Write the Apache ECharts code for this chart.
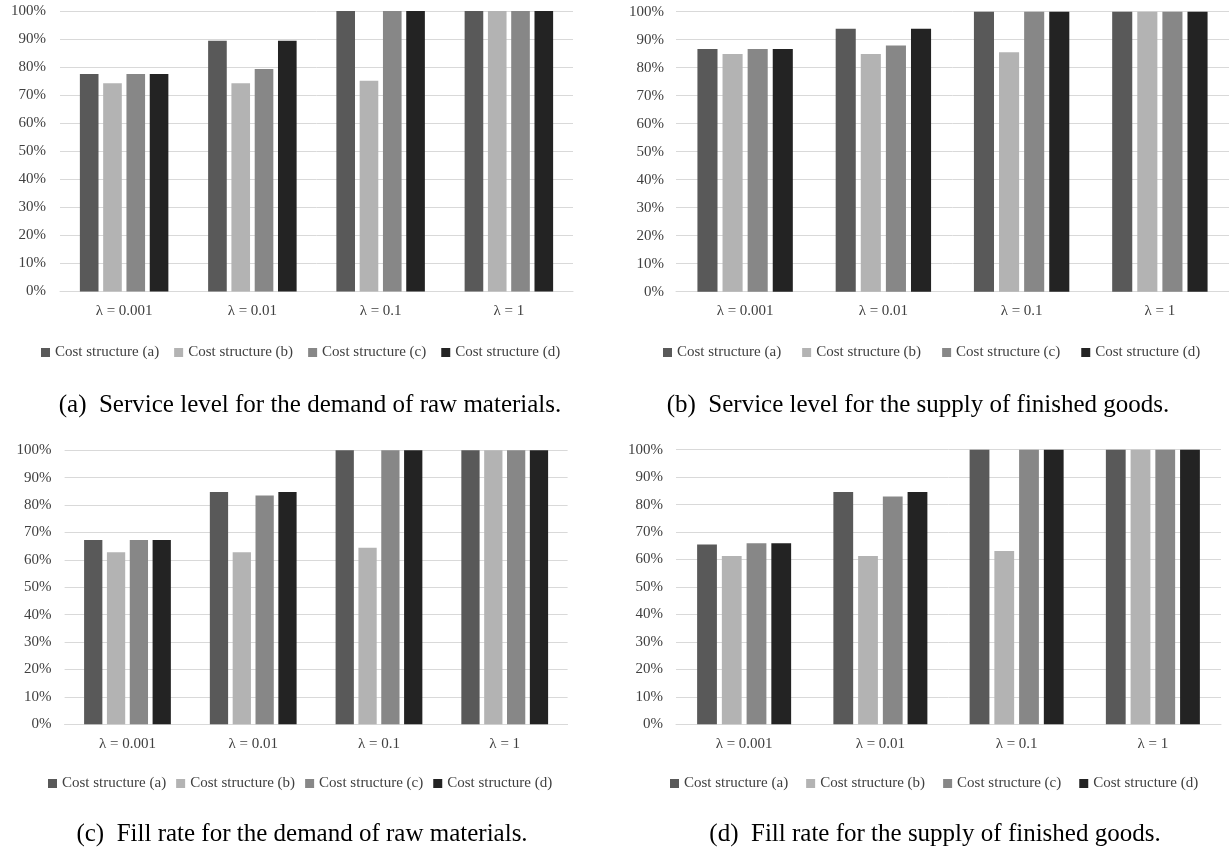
<!DOCTYPE html>
<html>
<head>
<meta charset="utf-8">
<title>Service level and fill rate by cost structure</title>
<script src="https://cdn.jsdelivr.net/npm/echarts@6/dist/echarts.min.js"></script>
<style>
  html, body { margin: 0; padding: 0; background: #ffffff; }
  #chart { width: 1229px; height: 856px; }
</style>
</head>
<body>
<div id="chart"></div>
<script>
// Categories (smoothing parameter) and series names
const lambdas = ['λ = 0.001', 'λ = 0.01', 'λ = 0.1', 'λ = 1'];
const structures = ['Cost structure (a)', 'Cost structure (b)', 'Cost structure (c)', 'Cost structure (d)'];
const yTicks = { min: 0, max: 100, step: 10 };

// (a) Service level for the demand of raw materials (%)
const slRawA = [77.5, 89.4, 100, 100];
const slRawB = [74.2, 74.2, 75.1, 100];
const slRawC = [77.5, 79.3, 100, 100];
const slRawD = [77.5, 89.4, 100, 100];

// (b) Service level for the supply of finished goods (%)
const slFinA = [86.7, 93.9, 100, 100];
const slFinB = [84.9, 84.9, 85.5, 100];
const slFinC = [86.7, 87.9, 100, 100];
const slFinD = [86.7, 93.9, 100, 100];

// (c) Fill rate for the demand of raw materials (%)
const frRawA = [67.3, 84.8, 100, 100];
const frRawB = [62.8, 62.8, 64.4, 100];
const frRawC = [67.3, 83.5, 100, 100];
const frRawD = [67.3, 84.8, 100, 100];

// (d) Fill rate for the supply of finished goods (%)
const frFinA = [65.5, 84.6, 100, 100];
const frFinB = [61.3, 61.3, 63.1, 100];
const frFinC = [65.9, 83.0, 100, 100];
const frFinD = [65.9, 84.6, 100, 100];

const captions = [
  '(a)  Service level for the demand of raw materials.',
  '(b)  Service level for the supply of finished goods.',
  '(c)  Fill rate for the demand of raw materials.',
  '(d)  Fill rate for the supply of finished goods.'
];

const panels = [
  { data: [slRawA, slRawB, slRawC, slRawD], grid: { left: 60, top: 11, width: 513, height: 280.5 }, yMargin: 14,
    legend: { left: 36, top: 340, gap: 15 }, caption: { x: 310, y: 405 } },
  { data: [slFinA, slFinB, slFinC, slFinD], grid: { left: 676, top: 11.7, width: 553, height: 280 }, yMargin: 12,
    legend: { left: 658, top: 340, gap: 21 }, caption: { x: 918, y: 405 } },
  { data: [frRawA, frRawB, frRawC, frRawD], grid: { left: 64.6, top: 450.3, width: 503, height: 274 }, yMargin: 13,
    legend: { left: 43, top: 771, gap: 10 }, caption: { x: 302, y: 834 } },
  { data: [frFinA, frFinB, frFinC, frFinD], grid: { left: 676, top: 449.7, width: 545, height: 274.6 }, yMargin: 13,
    legend: { left: 665, top: 771, gap: 18 }, caption: { x: 935, y: 834 } }
];

const colors = ['#595959', '#b3b3b3', '#878787', '#232323'];
const serif = '"Liberation Serif", "Times New Roman", serif';
const tickColor = '#404040';
const gridColor = '#d9d9d9';

const option = {
  animation: false,
  backgroundColor: '#ffffff',
  color: colors,
  grid: [], xAxis: [], yAxis: [], legend: [], series: [], graphic: []
};

panels.forEach((p, i) => {
  option.grid.push(Object.assign({ containLabel: false }, p.grid));
  option.xAxis.push({
    type: 'category', gridIndex: i, data: lambdas,
    axisLine: { show: true, lineStyle: { color: gridColor, width: 1 } },
    axisTick: { show: false },
    axisLabel: { color: tickColor, fontFamily: serif, fontSize: 15, margin: 12 }
  });
  option.yAxis.push({
    type: 'value', gridIndex: i, min: yTicks.min, max: yTicks.max, interval: yTicks.step,
    axisLine: { show: false }, axisTick: { show: false },
    splitLine: { lineStyle: { color: gridColor, width: 1 } },
    axisLabel: { color: tickColor, fontFamily: serif, fontSize: 15, margin: p.yMargin, formatter: '{value}%' }
  });
  option.legend.push({
    left: p.legend.left, top: p.legend.top, orient: 'horizontal',
    icon: 'rect', itemWidth: 9, itemHeight: 9, itemGap: p.legend.gap,
    data: structures, selectedMode: false,
    textStyle: { color: tickColor, fontFamily: serif, fontSize: 15 }
  });
  p.data.forEach((vals, k) => {
    option.series.push({
      type: 'bar', name: structures[k], xAxisIndex: i, yAxisIndex: i,
      data: vals, barGap: '25%', barCategoryGap: '31%',
      itemStyle: { color: colors[k] }
    });
  });
  option.graphic.push({
    type: 'text', x: p.caption.x, y: p.caption.y,
    style: { text: captions[i], fill: '#000000', font: '25px ' + serif, textAlign: 'center', textVerticalAlign: 'middle' }
  });
});

const chart = echarts.init(document.getElementById('chart'), null, { renderer: 'canvas' });
chart.setOption(option);
</script>
</body>
</html>
